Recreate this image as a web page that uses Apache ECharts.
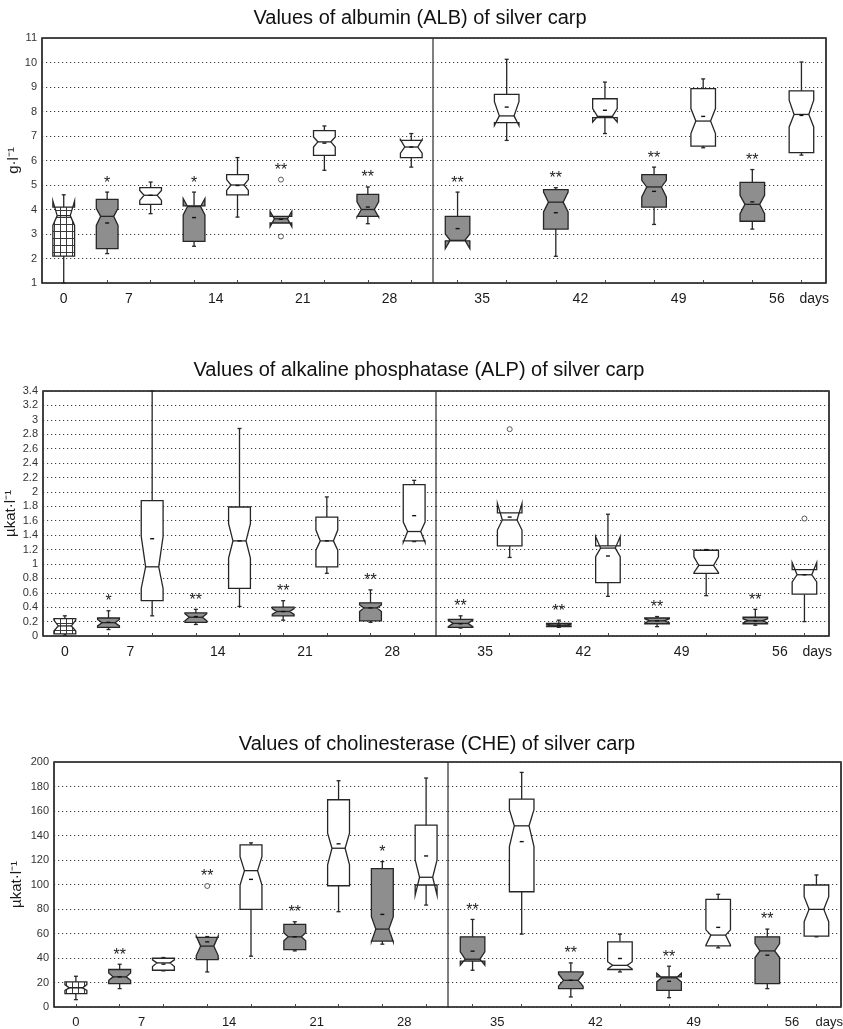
<!DOCTYPE html>
<html><head><meta charset="utf-8">
<script src="https://cdn.jsdelivr.net/npm/echarts@6/dist/echarts.min.js"></script>
<style>html,body{margin:0;padding:0;background:#fff}#c{width:843px;height:1029px}</style>
</head><body><div id="c"></div>
<script>
// ---------- DATA ----------
const boxGroups = ['initial','exposed','control','exposed','control','exposed','control','exposed','control',
                   'exposed','control','exposed','control','exposed','control','exposed','control'];
const dayLabelsLeft = ['0','7','14','21','28'];
const dayLabelsRight = ['35','42','49','56','days'];

// Albumin (ALB), g/l
const albLow       = [1.0, 2.2, 3.83, 2.5, 3.69, 3.45, 5.6, 3.42, 5.73, 2.72, 6.82, 2.09, 7.1, 3.39, 6.52, 3.2, 6.22];
const albQ1        = [2.1, 2.4, 4.21, 2.7, 4.6, 3.45, 6.21, 3.72, 6.12, 2.72, 7.55, 3.2, 7.75, 4.1, 6.59, 3.52, 6.32];
const albMedian    = [3.75, 3.72, 4.58, 4.12, 5.0, 3.62, 6.76, 4.0, 6.55, 2.74, 7.82, 4.3, 7.8, 4.92, 7.61, 4.21, 7.88];
const albQ3        = [4.1, 4.41, 4.89, 4.15, 5.42, 3.72, 7.22, 4.62, 6.82, 3.72, 8.7, 4.81, 8.52, 5.42, 8.93, 5.11, 8.84];
const albHigh      = [4.6, 4.71, 5.12, 4.71, 6.12, 3.72, 7.41, 4.92, 7.1, 4.71, 10.13, 4.89, 9.2, 5.73, 9.33, 5.63, 10.02];
const albNotchLow  = [3.35, 3.35, 4.37, 3.78, 4.78, 3.3, 6.55, 3.69, 6.3, 2.4, 7.43, 3.9, 7.57, 4.51, 7.1, 3.83, 7.37];
const albNotchHigh = [4.35, 4.05, 4.78, 4.45, 5.22, 3.92, 6.96, 4.31, 6.85, 3.0, 8.4, 4.71, 8.12, 5.19, 8.12, 4.58, 8.46];
const albMean      = [null, 3.45, 4.58, 3.67, 4.98, 3.6, 6.71, 4.1, 6.55, 3.22, 8.18, 3.87, 8.05, 4.74, 7.8, 4.31, 7.84];
const albSignif    = ['', '*', '', '*', '', '**', '', '**', '', '**', '', '**', '', '**', '', '**', ''];
const albOutliers  = [[5, 5.22], [5, 2.9]];

// Alkaline phosphatase (ALP), µkat/l
const alpLow       = [0.01, 0.09, 0.28, 0.16, 0.41, 0.22, 0.87, 0.19, 1.31, 0.11, 1.09, 0.12, 0.55, 0.13, 0.56, 0.15, 0.2];
const alpQ1        = [0.03, 0.12, 0.49, 0.19, 0.66, 0.28, 0.96, 0.21, 1.32, 0.12, 1.25, 0.13, 0.74, 0.17, 0.87, 0.17, 0.58];
const alpMedian    = [0.14, 0.185, 0.96, 0.26, 1.32, 0.34, 1.32, 0.39, 1.45, 0.175, 1.61, 0.15, 1.22, 0.21, 0.98, 0.21, 0.85];
const alpQ3        = [0.24, 0.25, 1.88, 0.32, 1.79, 0.4, 1.65, 0.46, 2.1, 0.23, 1.71, 0.175, 1.25, 0.25, 1.19, 0.26, 0.92];
const alpHigh      = [0.28, 0.35, 3.4, 0.37, 2.88, 0.49, 1.93, 0.64, 2.16, 0.28, 1.71, 0.22, 1.69, 0.27, 1.2, 0.37, 0.92];
const alpNotchLow  = [0.07, 0.14, 0.66, 0.21, 1.08, 0.3, 1.19, 0.34, 1.3, 0.13, 1.47, 0.14, 1.1, 0.18, 0.88, 0.18, 0.75];
const alpNotchHigh = [0.22, 0.23, 1.38, 0.31, 1.56, 0.38, 1.47, 0.43, 1.58, 0.22, 1.84, 0.165, 1.38, 0.24, 1.1, 0.24, 1.02];
const alpMean      = [null, 0.19, 1.35, 0.27, 1.32, 0.34, 1.32, 0.39, 1.67, 0.17, 1.65, 0.15, 1.11, 0.21, 1.19, 0.21, 0.85];
const alpSignif    = ['', '*', '', '**', '', '**', '', '**', '', '**', '', '**', '', '**', '', '**', ''];
const alpOutliers  = [[10, 2.87], [16, 1.63]];

// Cholinesterase (CHE), µkat/l
const cheLow       = [6, 15, 29.5, 28.6, 41.5, 45.8, 77.8, 51.3, 83.2, 30, 59.5, 8.2, 28.6, 7.6, 48.3, 15, 57.3];
const cheQ1        = [10.9, 19.1, 30, 38.7, 79.7, 46.9, 99, 53.8, 99.6, 37.5, 94.1, 15, 30.6, 13.6, 49.9, 19.1, 57.9];
const cheMedian    = [15.6, 24.6, 36, 49.7, 111.3, 57.3, 129.6, 63.6, 105.9, 39, 147.9, 21.8, 34, 23.8, 58.7, 45.8, 79.7];
const cheQ3        = [20.5, 30.6, 39.8, 56.8, 132.3, 67.4, 169.2, 113, 148.4, 57.3, 169.7, 28.6, 53.2, 24.6, 87.9, 57.3, 99.6];
const cheHigh      = [25.1, 34.9, 40.4, 57.5, 134, 69.6, 184.7, 118.7, 186.9, 71.5, 191.5, 36, 59.5, 33.3, 92, 63.6, 107.8];
const cheNotchLow  = [13.6, 21.8, 33, 42, 99.6, 54, 116, 53.2, 91.4, 34.1, 131, 17, 31, 20.5, 50.5, 40.4, 69.6];
const cheNotchHigh = [18.3, 27.8, 38.5, 57.8, 122.8, 60.6, 141.9, 73.7, 120, 45, 161, 27, 37, 27.5, 63, 51.8, 90];
const cheMean      = [null, 24.6, 35, 53.2, 104.2, 57.3, 133.2, 75.6, 123.3, 45.6, 135, 21.8, 39.6, 21, 65, 42.3, null];
const cheSignif    = ['', '**', '', '**', '', '**', '', '*', '', '**', '', '**', '', '**', '', '**', ''];
const cheOutliers  = [[3, 98.8]];

// ---------- CHART ----------
const FONT = '"Liberation Sans", Arial, Helvetica, sans-serif';
const charts = [
  {title:'Values of albumin (ALB) of silver carp', unit:'g·l⁻¹', min:1, max:11, step:1,
   low:albLow, q1:albQ1, median:albMedian, q3:albQ3, high:albHigh, notchLow:albNotchLow, notchHigh:albNotchHigh,
   mean:albMean, signif:albSignif, outliers:albOutliers},
  {title:'Values of alkaline phosphatase (ALP) of silver carp', unit:'µkat·l⁻¹', min:0, max:3.4, step:0.2,
   low:alpLow, q1:alpQ1, median:alpMedian, q3:alpQ3, high:alpHigh, notchLow:alpNotchLow, notchHigh:alpNotchHigh,
   mean:alpMean, signif:alpSignif, outliers:alpOutliers},
  {title:'Values of cholinesterase (CHE) of silver carp', unit:'µkat·l⁻¹', min:0, max:200, step:20,
   low:cheLow, q1:cheQ1, median:cheMedian, q3:cheQ3, high:cheHigh, notchLow:cheNotchLow, notchHigh:cheNotchHigh,
   mean:cheMean, signif:cheSignif, outliers:cheOutliers}
];
const layouts = [
  {top:38, bottom:283, left:42, mid:433, right:826, titleX:420, titleY:8, xFont:14, nameGap:16},
  {top:391, bottom:636, left:43, mid:436, right:829, titleX:419, titleY:360, xFont:14, nameGap:20},
  {top:762, bottom:1007, left:54, mid:448, right:841, titleX:437, titleY:734, xFont:13, nameGap:30}
];
const leftLabelPos = [0, 1.5, 3.5, 5.5, 7.5];
const rightLabelPos = [0.5, 2.5, 4.5, 6.5, 7.26];

const hc = document.createElement('canvas'); hc.width = 6; hc.height = 7;
const hg = hc.getContext('2d');
hg.fillStyle = '#fff'; hg.fillRect(0, 0, 6, 7);
hg.strokeStyle = '#3a3a3a'; hg.lineWidth = 1;
hg.beginPath(); hg.moveTo(0.5, 0); hg.lineTo(0.5, 7); hg.moveTo(0, 0.5); hg.lineTo(6, 0.5); hg.stroke();
const hatch = {image: hc, repeat: 'repeat'};

const STROKE = '#262626';
function makeRender(ch, offset) {
  return function (params, api) {
    const i = offset + params.dataIndex;
    const x = params.dataIndex;
    const py = v => api.coord([x, v])[1];
    const cx = api.coord([x, ch.q1[i]])[0];
    const w = api.size([1, 0])[0] * 0.5;
    const ind = w * 0.2;
    const L = cx - w / 2, R = cx + w / 2;
    const yq1 = py(ch.q1[i]), yq3 = py(ch.q3[i]), ym = py(ch.median[i]);
    const ynl = py(ch.notchLow[i]), ynh = py(ch.notchHigh[i]);
    const ylo = py(ch.low[i]), yhi = py(ch.high[i]);
    const g = boxGroups[i];
    const fill = g === 'initial' ? hatch : (g === 'exposed' ? '#8e8e8e' : '#ffffff');
    const ls = {stroke: STROKE, lineWidth: 1.3};
    const kids = [];
    if (ch.high[i] > ch.q3[i]) {
      kids.push({type:'line', shape:{x1:cx, y1:yq3, x2:cx, y2:yhi}, style:ls});
      kids.push({type:'line', shape:{x1:cx-2, y1:yhi, x2:cx+2, y2:yhi}, style:ls});
    }
    if (ch.low[i] < ch.q1[i]) {
      kids.push({type:'line', shape:{x1:cx, y1:yq1, x2:cx, y2:ylo}, style:ls});
      kids.push({type:'line', shape:{x1:cx-2, y1:ylo, x2:cx+2, y2:ylo}, style:ls});
    }
    kids.push({type:'polygon', shape:{points:[[L,yq1],[L,ynl],[L+ind,ym],[L,ynh],[L,yq3],[R,yq3],[R,ynh],[R-ind,ym],[R,ynl],[R,yq1]]},
               style:{fill: fill, stroke: STROKE, lineWidth: 1.3, lineJoin:'miter'}});
    kids.push({type:'line', shape:{x1:L+ind, y1:ym, x2:R-ind, y2:ym}, style:ls});
    if (ch.mean[i] != null) {
      const ymn = py(ch.mean[i]);
      kids.push({type:'line', shape:{x1:cx-2, y1:ymn, x2:cx+2, y2:ymn}, style:{stroke:'#111', lineWidth:1.4}});
    }
    if (ch.signif[i]) {
      let top = Math.min(yhi, ynh, yq3);
      ch.outliers.forEach(o => { if (o[0] === i) top = Math.min(top, py(o[1])); });
      kids.push({type:'text', style:{text: ch.signif[i], x: cx, y: top - 9, align:'center', verticalAlign:'middle',
                 font: '16px ' + FONT, fill:'#222'}});
    }
    return {type:'group', children: kids};
  };
}

const option = {animation:false, title:[], grid:[], xAxis:[], yAxis:[], series:[]};
charts.forEach((ch, k) => {
  const Lo = layouts[k];
  const h = Lo.bottom - Lo.top;
  option.title.push({text: ch.title, left: Lo.titleX, top: Lo.titleY, textAlign:'center', padding:0,
    textStyle:{fontSize:20, fontWeight:'normal', color:'#111', fontFamily: FONT}});
  const parts = [
    {start:0, n:9, left:Lo.left, width:Lo.mid - Lo.left, labels:dayLabelsLeft, pos:leftLabelPos, showY:true},
    {start:9, n:8, left:Lo.mid, width:Lo.right - Lo.mid, labels:dayLabelsRight, pos:rightLabelPos, showY:false}
  ];
  parts.forEach(p => {
    const gi = option.grid.length;
    option.grid.push({left:p.left, top:Lo.top, width:p.width, height:h, show:true, borderColor:'#555', borderWidth:1,
      containLabel:false, outerBoundsMode:'none'});
    const ticks = []; for (let j = 0; j < p.n; j++) ticks.push(j);
    option.xAxis.push({type:'value', gridIndex:gi, min:-0.5, max:p.n - 0.5,
      axisLine:{show:false}, splitLine:{show:false},
      axisTick:{show:true, inside:true, length:3, customValues:ticks, lineStyle:{color:'#444', width:1}},
      axisLabel:{customValues:p.pos, margin:9, fontSize:Lo.xFont, color:'#1a1a1a', fontFamily:FONT,
        formatter: v => { const j = p.pos.findIndex(q => Math.abs(q - v) < 1e-6); return j >= 0 ? p.labels[j] : ''; }}});
    option.yAxis.push({type:'value', gridIndex:gi, min:ch.min, max:ch.max, interval:ch.step,
      name: p.showY ? ch.unit : '', nameLocation:'middle', nameGap:Lo.nameGap,
      nameTextStyle:{fontSize:15, color:'#1a1a1a', fontFamily:FONT},
      axisLine:{show:false}, axisTick:{show:false},
      axisLabel:{show:p.showY, fontSize:11, color:'#333', margin:5, fontFamily:FONT},
      splitLine:{show:true, lineStyle:{type:[1.2,2.8], color:'#3a3a3a', width:1}}});
    const data = [];
    for (let j = 0; j < p.n; j++) data.push([j, ch.low[p.start + j], ch.high[p.start + j]]);
    option.series.push({type:'custom', xAxisIndex:gi, yAxisIndex:gi, renderItem:makeRender(ch, p.start),
      data: data, encode:{x:0, y:[1,2]}, clip:false, z:3});
    const od = ch.outliers.filter(o => o[0] >= p.start && o[0] < p.start + p.n).map(o => [o[0] - p.start, o[1]]);
    option.series.push({type:'scatter', xAxisIndex:gi, yAxisIndex:gi, data: od, symbol:'circle', symbolSize:5,
      itemStyle:{color:'#fff', borderColor:'#333', borderWidth:1}, z:4, silent:true});
  });
});
layouts.forEach(Lo => {
  option.grid.push({left:Lo.left, top:Lo.top, width:Lo.right - Lo.left, height:Lo.bottom - Lo.top,
    show:true, borderColor:'#2a2a2a', borderWidth:1.6, backgroundColor:'transparent',
    containLabel:false, outerBoundsMode:'none'});
});

const chart = echarts.init(document.getElementById('c'), null, {renderer:'canvas'});
chart.setOption(option);
</script>
</body></html>
